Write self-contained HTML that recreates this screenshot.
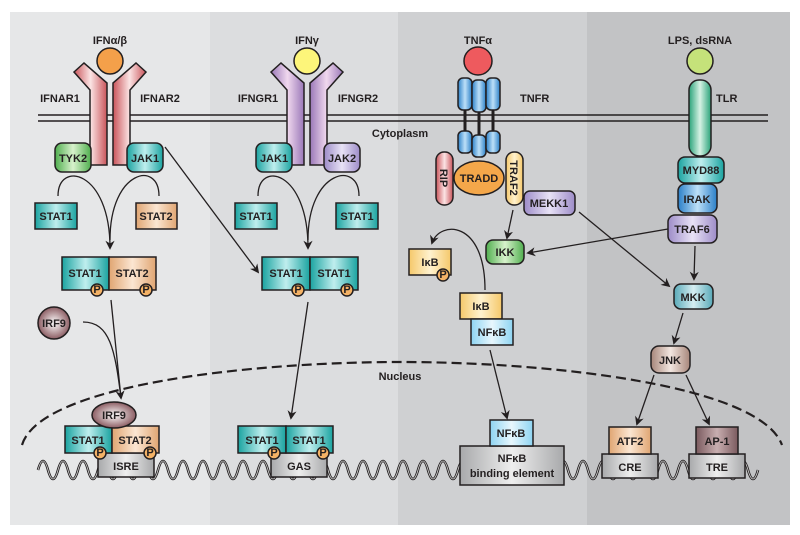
<!DOCTYPE html>
<html><head><meta charset="utf-8"><style>
html,body{margin:0;padding:0;background:#fff}
svg{display:block}
text{font-family:"Liberation Sans",sans-serif;font-weight:bold;font-size:11px;fill:#231f20}
.b{stroke:#231f20;stroke-width:1.5}
.l{stroke:#231f20;stroke-width:1.3;fill:none}
</style></head><body>
<svg width="800" height="535" viewBox="0 0 800 535">
<defs>
<marker id="a" viewBox="0 0 10 10" refX="8" refY="5" markerWidth="7" markerHeight="7" orient="auto"><path d="M0,0L10,5L0,10L3,5z" fill="#231f20"/></marker>
<linearGradient id="gt" x1="0" x2="1"><stop offset="0" stop-color="#1aa3a0"/><stop offset=".5" stop-color="#bfeeee"/><stop offset="1" stop-color="#1aa3a0"/></linearGradient>
<linearGradient id="go" x1="0" x2="1"><stop offset="0" stop-color="#e0a572"/><stop offset=".5" stop-color="#fbe6d2"/><stop offset="1" stop-color="#e0a572"/></linearGradient>
<linearGradient id="gr" x1="0" x2="1"><stop offset="0" stop-color="#c9545a"/><stop offset=".5" stop-color="#fbe4e4"/><stop offset="1" stop-color="#c9545a"/></linearGradient>
<linearGradient id="gp" x1="0" x2="1"><stop offset="0" stop-color="#9a78b8"/><stop offset=".5" stop-color="#f0d8ee"/><stop offset="1" stop-color="#9a78b8"/></linearGradient>
<linearGradient id="gg" x1="0" x2="1"><stop offset="0" stop-color="#4fae4e"/><stop offset=".5" stop-color="#d8f2cc"/><stop offset="1" stop-color="#4fae4e"/></linearGradient>
<linearGradient id="gb" x1="0" x2="1"><stop offset="0" stop-color="#2a7fc8"/><stop offset=".5" stop-color="#bde0f8"/><stop offset="1" stop-color="#2a7fc8"/></linearGradient>
<linearGradient id="gtl" x1="0" x2="1"><stop offset="0" stop-color="#2aa37a"/><stop offset=".5" stop-color="#d6f2e4"/><stop offset="1" stop-color="#2aa37a"/></linearGradient>
<linearGradient id="gv" x1="0" x2="1"><stop offset="0" stop-color="#9d8cc8"/><stop offset=".5" stop-color="#e8e2f6"/><stop offset="1" stop-color="#9d8cc8"/></linearGradient>
<linearGradient id="gy" x1="0" x2="1"><stop offset="0" stop-color="#f5c86a"/><stop offset=".5" stop-color="#fff2cf"/><stop offset="1" stop-color="#f5c86a"/></linearGradient>
<linearGradient id="gc" x1="0" x2="1"><stop offset="0" stop-color="#8ed4f2"/><stop offset=".5" stop-color="#e8f7fd"/><stop offset="1" stop-color="#8ed4f2"/></linearGradient>
<linearGradient id="gk" x1="0" x2="1"><stop offset="0" stop-color="#58a9b8"/><stop offset=".5" stop-color="#d6eef2"/><stop offset="1" stop-color="#58a9b8"/></linearGradient>
<linearGradient id="gn" x1="0" x2="1"><stop offset="0" stop-color="#a7867a"/><stop offset=".5" stop-color="#f2e6e0"/><stop offset="1" stop-color="#a7867a"/></linearGradient>
<linearGradient id="gm" x1="0" x2="1"><stop offset="0" stop-color="#7a5a5e"/><stop offset=".5" stop-color="#c8aeb0"/><stop offset="1" stop-color="#7a5a5e"/></linearGradient>
<linearGradient id="gs" x1="0" x2="1"><stop offset="0" stop-color="#a8a9ab"/><stop offset=".5" stop-color="#eeeeee"/><stop offset="1" stop-color="#a8a9ab"/></linearGradient>
<radialGradient id="rb"><stop offset="0" stop-color="#fff"/><stop offset="1" stop-color="#8c5d63"/></radialGradient>
<clipPath id="dc"><rect x="36" y="440" width="732" height="50"/></clipPath>
<path id="wave" d="M38,470 q5,-18 10,0 q5,18 10,0 q5,-18 10,0 q5,18 10,0 q5,-18 10,0 q5,18 10,0 q5,-18 10,0 q5,18 10,0 q5,-18 10,0 q5,18 10,0 q5,-18 10,0 q5,18 10,0 q5,-18 10,0 q5,18 10,0 q5,-18 10,0 q5,18 10,0 q5,-18 10,0 q5,18 10,0 q5,-18 10,0 q5,18 10,0 q5,-18 10,0 q5,18 10,0 q5,-18 10,0 q5,18 10,0 q5,-18 10,0 q5,18 10,0 q5,-18 10,0 q5,18 10,0 q5,-18 10,0 q5,18 10,0 q5,-18 10,0 q5,18 10,0 q5,-18 10,0 q5,18 10,0 q5,-18 10,0 q5,18 10,0 q5,-18 10,0 q5,18 10,0 q5,-18 10,0 q5,18 10,0 q5,-18 10,0 q5,18 10,0 q5,-18 10,0 q5,18 10,0 q5,-18 10,0 q5,18 10,0 q5,-18 10,0 q5,18 10,0 q5,-18 10,0 q5,18 10,0 q5,-18 10,0 q5,18 10,0 q5,-18 10,0 q5,18 10,0 q5,-18 10,0 q5,18 10,0 q5,-18 10,0 q5,18 10,0 q5,-18 10,0 q5,18 10,0 q5,-18 10,0 q5,18 10,0 q5,-18 10,0 q5,18 10,0 q5,-18 10,0 q5,18 10,0 q5,-18 10,0 q5,18 10,0 q5,-18 10,0 q5,18 10,0 q5,-18 10,0 q5,18 10,0" fill="none"/>
</defs>
<rect x="10" y="12" width="200" height="513" fill="#e6e7e8"/>
<rect x="210" y="12" width="188" height="513" fill="#dcdddf"/>
<rect x="398" y="12" width="189" height="513" fill="#cfd0d2"/>
<rect x="587" y="12" width="203" height="513" fill="#c2c3c5"/>
<!-- nucleus -->
<path d="M22,445 C40,385 250,362 400,362 C550,362 760,385 782,445" fill="none" stroke="#231f20" stroke-width="2.2" stroke-dasharray="10,5"/>
<text x="400" y="380" text-anchor="middle" font-size="10.5">Nucleus</text>
<!-- membrane -->
<line x1="38" y1="115" x2="768" y2="115" stroke="#231f20" stroke-width="1.5"/>
<line x1="38" y1="121" x2="768" y2="121" stroke="#231f20" stroke-width="1.5"/>
<text x="400" y="137" text-anchor="middle" font-size="10.5">Cytoplasm</text>
<!-- IFNAR -->
<text x="110" y="44" text-anchor="middle">IFNα/β</text>
<path class="b" fill="url(#gr)" d="M74,72 L84,63 L107,83 L107,165 L90,165 L90,90 Z"/>
<path class="b" fill="url(#gr)" d="M146,72 L136,63 L113,83 L113,165 L130,165 L130,90 Z"/>
<circle cx="110" cy="61" r="13" fill="#f4a04a" class="b"/>
<text x="60" y="102" text-anchor="middle">IFNAR1</text>
<text x="160" y="102" text-anchor="middle">IFNAR2</text>
<rect x="55" y="143" width="36" height="29" rx="7" fill="url(#gg)" class="b"/><text x="73" y="162" text-anchor="middle">TYK2</text>
<rect x="127" y="143" width="36" height="29" rx="7" fill="url(#gt)" class="b"/><text x="145" y="162" text-anchor="middle">JAK1</text>
<rect x="35" y="203" width="42" height="26" fill="url(#gt)" class="b"/><text x="56" y="220" text-anchor="middle">STAT1</text>
<rect x="136" y="203" width="41" height="26" fill="url(#go)" class="b"/><text x="156" y="220" text-anchor="middle">STAT2</text>
<path class="l" d="M58,196 C58,160 110,170 110,248" marker-end="url(#a)"/>
<path class="l" d="M159,196 C159,160 110,170 110,240"/>
<rect x="62" y="257" width="47" height="33" fill="url(#gt)" class="b"/><text x="85" y="277" text-anchor="middle">STAT1</text>
<rect x="109" y="257" width="47" height="33" fill="url(#go)" class="b"/><text x="132" y="277" text-anchor="middle">STAT2</text>
<circle cx="97" cy="290" r="6" fill="#f4b266" class="b" stroke-width="1"/><text x="97" y="293" text-anchor="middle" font-size="7">P</text>
<circle cx="146" cy="290" r="6" fill="#f4b266" class="b" stroke-width="1"/><text x="146" y="293" text-anchor="middle" font-size="7">P</text>
<circle cx="54" cy="323" r="16" fill="url(#rb)" class="b"/><text x="54" y="327" text-anchor="middle">IRF9</text>
<path class="l" d="M83,322 C110,322 115,350 121,398" marker-end="url(#a)"/>
<line class="l" x1="111" y1="300" x2="121" y2="398"/>
<path class="l" d="M165,147 L258,272" marker-end="url(#a)"/>
<!-- IFNGR -->
<text x="307" y="44" text-anchor="middle">IFNγ</text>
<path class="b" fill="url(#gp)" d="M271,72 L281,63 L304,83 L304,165 L287,165 L287,90 Z"/>
<path class="b" fill="url(#gp)" d="M343,72 L333,63 L310,83 L310,165 L327,165 L327,90 Z"/>
<circle cx="307" cy="61" r="13" fill="#fdf57a" class="b"/>
<text x="258" y="102" text-anchor="middle">IFNGR1</text>
<text x="358" y="102" text-anchor="middle">IFNGR2</text>
<rect x="256" y="143" width="36" height="29" rx="7" fill="url(#gt)" class="b"/><text x="274" y="162" text-anchor="middle">JAK1</text>
<rect x="324" y="143" width="36" height="29" rx="7" fill="url(#gv)" class="b"/><text x="342" y="162" text-anchor="middle">JAK2</text>
<rect x="235" y="203" width="42" height="26" fill="url(#gt)" class="b"/><text x="256" y="220" text-anchor="middle">STAT1</text>
<rect x="336" y="203" width="42" height="26" fill="url(#gt)" class="b"/><text x="357" y="220" text-anchor="middle">STAT1</text>
<path class="l" d="M258,196 C258,160 308,170 308,248" marker-end="url(#a)"/>
<path class="l" d="M359,196 C359,160 308,170 308,240"/>
<rect x="262" y="257" width="48" height="33" fill="url(#gt)" class="b"/><text x="286" y="277" text-anchor="middle">STAT1</text>
<rect x="310" y="257" width="48" height="33" fill="url(#gt)" class="b"/><text x="334" y="277" text-anchor="middle">STAT1</text>
<circle cx="298" cy="290" r="6" fill="#f4b266" class="b" stroke-width="1"/><text x="298" y="293" text-anchor="middle" font-size="7">P</text>
<circle cx="347" cy="290" r="6" fill="#f4b266" class="b" stroke-width="1"/><text x="347" y="293" text-anchor="middle" font-size="7">P</text>
<path class="l" d="M308,302 L291,418" marker-end="url(#a)"/>
<!-- TNF -->
<text x="478" y="44" text-anchor="middle">TNFα</text>
<circle cx="478" cy="61" r="14" fill="#ee5a5e" class="b"/>
<line x1="465" y1="108" x2="465" y2="135" stroke="#231f20" stroke-width="3"/>
<line x1="479" y1="108" x2="479" y2="140" stroke="#231f20" stroke-width="3"/>
<line x1="493" y1="108" x2="493" y2="135" stroke="#231f20" stroke-width="3"/>
<rect x="458" y="78" width="14" height="32" rx="5" fill="url(#gb)" class="b"/>
<rect x="472" y="80" width="14" height="32" rx="5" fill="url(#gb)" class="b"/>
<rect x="486" y="78" width="14" height="32" rx="5" fill="url(#gb)" class="b"/>
<rect x="458" y="131" width="14" height="22" rx="5" fill="url(#gb)" class="b"/>
<rect x="472" y="135" width="14" height="22" rx="5" fill="url(#gb)" class="b"/>
<rect x="486" y="131" width="14" height="22" rx="5" fill="url(#gb)" class="b"/>
<text x="520" y="102">TNFR</text>
<rect x="436" y="152" width="17" height="53" rx="8" fill="url(#gr)" class="b"/>
<text transform="translate(440,178) rotate(90)" text-anchor="middle" font-size="10">RIP</text>
<rect x="506" y="152" width="17" height="53" rx="8" fill="url(#gy)" class="b"/>
<text transform="translate(510,178) rotate(90)" text-anchor="middle" font-size="10">TRAF2</text>
<ellipse cx="479" cy="178" rx="25" ry="17" fill="#f4a74a" class="b"/><text x="479" y="182" text-anchor="middle">TRADD</text>
<rect x="524" y="191" width="51" height="24" rx="6" fill="url(#gv)" class="b"/><text x="549" y="207" text-anchor="middle">MEKK1</text>
<path class="l" d="M513,210 L507,238" marker-end="url(#a)"/>
<rect x="486" y="240" width="38" height="24" rx="7" fill="url(#gg)" class="b"/><text x="505" y="256" text-anchor="middle">IKK</text>
<path class="l" d="M485,290 C485,220 440,220 432,243" marker-end="url(#a)"/>
<rect x="409" y="249" width="42" height="26" fill="url(#gy)" class="b"/><text x="430" y="266" text-anchor="middle">IκB</text>
<circle cx="443" cy="275" r="6" fill="#f4b266" class="b" stroke-width="1"/><text x="443" y="278" text-anchor="middle" font-size="7">P</text>
<rect x="460" y="293" width="42" height="26" fill="url(#gy)" class="b"/><text x="481" y="310" text-anchor="middle">IκB</text>
<rect x="471" y="319" width="42" height="26" fill="url(#gc)" class="b"/><text x="492" y="336" text-anchor="middle">NFκB</text>
<path class="l" d="M490,350 L507,418" marker-end="url(#a)"/>
<!-- TLR -->
<text x="700" y="44" text-anchor="middle">LPS, dsRNA</text>
<circle cx="700" cy="61" r="13" fill="#c5e27a" class="b"/>
<rect x="689" y="80" width="22" height="76" rx="10" fill="url(#gtl)" class="b"/>
<text x="716" y="102">TLR</text>
<rect x="678" y="157" width="46" height="26" rx="7" fill="url(#gt)" class="b"/><text x="701" y="174" text-anchor="middle">MYD88</text>
<rect x="678" y="184" width="39" height="29" rx="7" fill="url(#gb)" class="b"/><text x="697" y="203" text-anchor="middle">IRAK</text>
<rect x="668" y="215" width="49" height="28" rx="7" fill="url(#gv)" class="b"/><text x="692" y="233" text-anchor="middle">TRAF6</text>
<path class="l" d="M668,229 L528,253" marker-end="url(#a)"/>
<path class="l" d="M579,212 L669,286" marker-end="url(#a)"/>
<path class="l" d="M695,246 L694,279" marker-end="url(#a)"/>
<rect x="674" y="284" width="39" height="25" rx="7" fill="url(#gk)" class="b"/><text x="693" y="301" text-anchor="middle">MKK</text>
<path class="l" d="M683,313 L674,343" marker-end="url(#a)"/>
<rect x="651" y="346" width="39" height="27" rx="8" fill="url(#gn)" class="b"/><text x="670" y="364" text-anchor="middle">JNK</text>
<path class="l" d="M654,375 L637,424" marker-end="url(#a)"/>
<path class="l" d="M686,375 L709,424" marker-end="url(#a)"/>
<!-- DNA -->
<g clip-path="url(#dc)">
<use href="#wave" stroke="#231f20" stroke-width="2.6"/>
<use href="#wave" stroke="#d8d8d8" stroke-width="0.8"/>
</g>
<!-- ISRE -->
<rect x="98" y="453" width="56" height="24" fill="url(#gs)" class="b"/><text x="126" y="470" text-anchor="middle">ISRE</text>
<rect x="65" y="426" width="47" height="27" fill="url(#gt)" class="b"/><text x="88" y="444" text-anchor="middle">STAT1</text>
<rect x="112" y="426" width="47" height="27" fill="url(#go)" class="b"/><text x="135" y="444" text-anchor="middle">STAT2</text>
<circle cx="100" cy="453" r="6" fill="#f4b266" class="b" stroke-width="1"/><text x="100" y="456" text-anchor="middle" font-size="7">P</text>
<circle cx="150" cy="453" r="6" fill="#f4b266" class="b" stroke-width="1"/><text x="150" y="456" text-anchor="middle" font-size="7">P</text>
<ellipse cx="114" cy="415" rx="22" ry="13" fill="url(#rb)" class="b"/><text x="114" y="419" text-anchor="middle">IRF9</text>
<!-- GAS -->
<rect x="271" y="453" width="56" height="24" fill="url(#gs)" class="b"/><text x="299" y="470" text-anchor="middle">GAS</text>
<rect x="238" y="426" width="48" height="27" fill="url(#gt)" class="b"/><text x="262" y="444" text-anchor="middle">STAT1</text>
<rect x="286" y="426" width="47" height="27" fill="url(#gt)" class="b"/><text x="309" y="444" text-anchor="middle">STAT1</text>
<circle cx="274" cy="453" r="6" fill="#f4b266" class="b" stroke-width="1"/><text x="274" y="456" text-anchor="middle" font-size="7">P</text>
<circle cx="323" cy="453" r="6" fill="#f4b266" class="b" stroke-width="1"/><text x="323" y="456" text-anchor="middle" font-size="7">P</text>
<!-- NFkB -->
<rect x="460" y="446" width="104" height="39" fill="url(#gs)" class="b"/><text x="512" y="462" text-anchor="middle">NFκB</text><text x="512" y="477" text-anchor="middle">binding element</text>
<rect x="490" y="420" width="43" height="26" fill="url(#gc)" class="b"/><text x="511" y="437" text-anchor="middle">NFκB</text>
<!-- CRE / TRE -->
<rect x="602" y="454" width="56" height="24" fill="url(#gs)" class="b"/><text x="630" y="471" text-anchor="middle">CRE</text>
<rect x="609" y="427" width="42" height="27" fill="url(#go)" class="b"/><text x="630" y="445" text-anchor="middle">ATF2</text>
<rect x="689" y="454" width="56" height="24" fill="url(#gs)" class="b"/><text x="717" y="471" text-anchor="middle">TRE</text>
<rect x="696" y="427" width="42" height="27" fill="url(#gm)" class="b"/><text x="717" y="445" text-anchor="middle">AP-1</text>
</svg>
</body></html>
